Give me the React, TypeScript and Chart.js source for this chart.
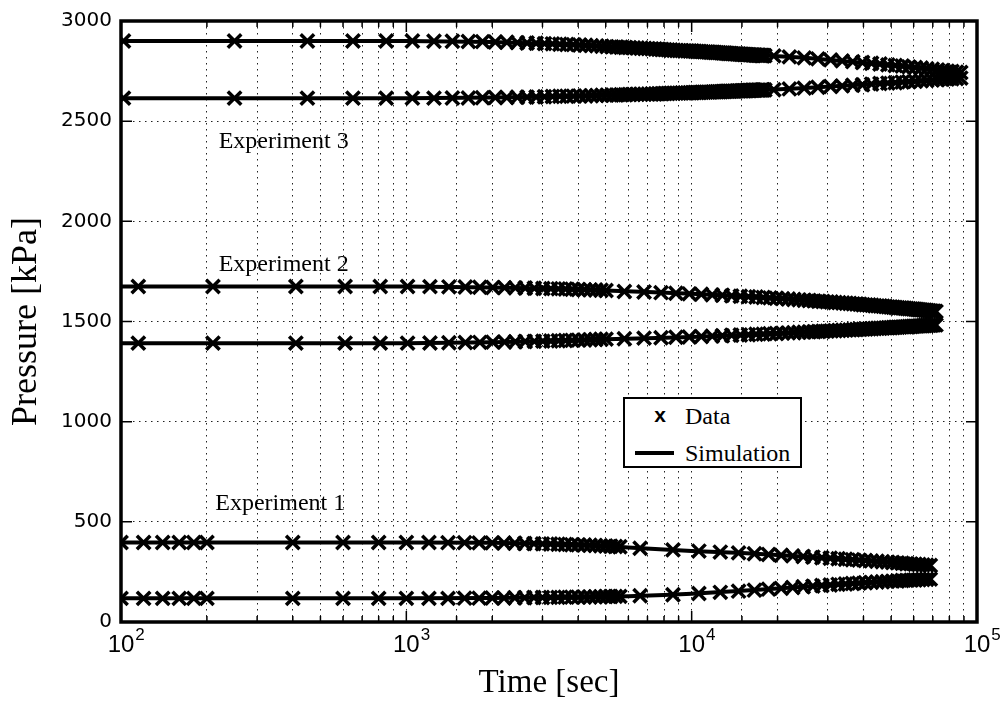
import React, { useEffect, useRef } from 'react';
import { Chart, registerables } from 'chart.js';

Chart.register(...registerables);

// ---------- Experiment 1 (data) ----------
const exp1Time = [
  100, 120, 140, 160, 180, 200,
  400, 600, 800, 1000, 1200, 1400, 1600, 1800, 2000, 2200, 2400, 2600, 2800, 3000,
  3200, 3400, 3600, 3800, 4000, 4200, 4400, 4600, 4800, 5000, 5200, 5400, 5600,
  6600, 8600, 10600, 12600, 14600, 16600, 18600, 20600, 22600, 24600, 26600, 28600,
  30600, 32600, 34600, 36600, 38600, 40600, 42600, 44600, 46600, 48600, 50600, 52600,
  54600, 56600, 58600, 60600, 62600, 64600, 66600, 68600,
];
const exp1Upper = [
  397, 397, 397, 397, 397, 397,
  397, 397, 397, 397, 397, 396, 396, 395, 395, 394, 393, 392, 391, 390,
  389, 388, 387, 386, 385, 384, 383, 382, 380, 379, 378, 377, 376,
  368, 360, 354, 349, 345, 341, 337, 333, 330, 327, 324, 321,
  318, 316, 313, 311, 309, 307, 305, 303, 301, 299, 297, 295,
  293, 291, 290, 288, 287, 285, 284, 282,
];
const exp1Lower = [
  118, 118, 118, 118, 118, 118,
  118, 118, 118, 118, 118, 118, 119, 119, 120, 120, 121, 121, 122, 122,
  123, 123, 124, 124, 124, 125, 125, 126, 126, 127, 127, 128, 128,
  131, 136, 142, 148, 154, 159, 164, 168, 172, 176, 179, 182,
  185, 188, 190, 192, 194, 196, 198, 200, 201, 203, 204, 205,
  207, 208, 209, 210, 211, 212, 213, 214,
];

// ---------- Experiment 2 (data) ----------
const exp2Time = [
  115, 210, 410, 610, 810, 1010, 1210, 1410, 1610, 1810, 2010, 2210, 2410, 2610, 2810,
  3010, 3210, 3410, 3610, 3810, 4010, 4210, 4410, 4610, 4810, 5010,
  5810, 6810, 7810, 8810, 9810, 10810, 11810, 12810, 13810, 14810,
  15810, 16810, 17810, 18810, 19810, 20810, 21810, 22810, 23810, 24810,
  25810, 26810, 27810, 28810, 29810, 30810, 31810, 32810, 33810, 34810,
  35810, 36810, 37810, 38810, 39810, 40810, 41810, 42810, 43810, 44810,
  45810, 46810, 47810, 48810, 49810, 50810, 51810, 52810, 53810, 54810,
  55810, 56810, 57810, 58810, 59810, 60810, 61810, 62810, 63810, 64810,
  65810, 66810, 67810, 68810, 69810, 70810, 71810,
];
const exp2Upper = [
  1675, 1675, 1675, 1675, 1675, 1675, 1674, 1673, 1672, 1671, 1670, 1669, 1668, 1667, 1666,
  1665, 1664, 1663, 1662, 1661, 1660, 1659, 1658, 1657, 1656, 1655,
  1650, 1647, 1644, 1641, 1638, 1636, 1633, 1631, 1628, 1626,
  1624, 1622, 1620, 1618, 1616, 1614, 1612, 1610, 1608, 1606,
  1605, 1603, 1601, 1600, 1598, 1597, 1595, 1594, 1592, 1591,
  1590, 1588, 1587, 1586, 1584, 1583, 1582, 1581, 1579, 1578,
  1577, 1576, 1575, 1573, 1572, 1571, 1570, 1569, 1568, 1567,
  1566, 1565, 1564, 1563, 1562, 1561, 1560, 1559, 1558, 1557,
  1556, 1555, 1554, 1553, 1552, 1551, 1550,
];
const exp2Lower = [
  1392, 1392, 1392, 1392, 1392, 1392, 1393, 1394, 1395, 1396, 1397, 1398, 1399, 1400, 1401,
  1402, 1403, 1404, 1405, 1406, 1407, 1408, 1409, 1410, 1411, 1412,
  1414, 1417, 1419, 1421, 1423, 1425, 1427, 1429, 1431, 1433,
  1434, 1436, 1437, 1439, 1440, 1442, 1443, 1444, 1446, 1447,
  1448, 1449, 1450, 1451, 1452, 1453, 1454, 1455, 1456, 1457,
  1458, 1459, 1460, 1461, 1462, 1462, 1463, 1464, 1465, 1466,
  1466, 1467, 1468, 1469, 1469, 1470, 1471, 1471, 1472, 1473,
  1473, 1474, 1475, 1475, 1476, 1477, 1477, 1478, 1478, 1479,
  1480, 1480, 1481, 1481, 1482, 1483, 1483,
];

// ---------- Experiment 3 (data) ----------
const exp3Time = [
  102,
  250, 450, 650, 850, 1050, 1250, 1450, 1650, 1850, 2050,
  2250, 2450, 2650, 2850, 3050, 3250, 3450, 3650, 3850, 4050,
  4250, 4450, 4650, 4850, 5050, 5250, 5450, 5650, 5850, 6050,
  6250, 6450, 6650, 6850, 7050, 7250, 7450, 7650, 7850, 8050,
  8250, 8450, 8650, 8850, 9050, 9250, 9450, 9650, 9850, 10050,
  10250, 10450, 10650, 10850, 11050, 11250, 11450, 11650, 11850, 12050,
  12250, 12450, 12650, 12850, 13050, 13250, 13450, 13650, 13850, 14050,
  14250, 14450, 14650, 14850, 15050, 15250, 15450, 15650, 15850, 16050,
  16250, 16450, 16650, 16850, 17050, 17250, 17450, 17650, 17850, 18050,
  19400, 22000, 24800, 27700, 30700, 33700, 36700, 39700, 42700, 45700, 48700, 51700,
  54700, 57700, 60700, 63700, 66700, 69700, 72700, 75700, 78700, 81700, 84700, 87700,
];
const exp3Upper = [
  2900,
  2900, 2900, 2900, 2900, 2900, 2899, 2899, 2898, 2897, 2895,
  2894, 2892, 2890, 2889, 2887, 2886, 2884, 2883, 2882, 2880,
  2879, 2877, 2876, 2874, 2872, 2871, 2870, 2869, 2868, 2867,
  2866, 2865, 2864, 2863, 2862, 2861, 2860, 2859, 2858, 2857,
  2856, 2855, 2854, 2853, 2852, 2852, 2851, 2851, 2850, 2850,
  2849, 2848, 2848, 2847, 2846, 2846, 2845, 2844, 2844, 2843,
  2842, 2842, 2841, 2840, 2840, 2839, 2838, 2838, 2837, 2836,
  2836, 2835, 2835, 2834, 2834, 2833, 2833, 2832, 2832, 2831,
  2831, 2830, 2830, 2829, 2829, 2829, 2828, 2828, 2828, 2827,
  2826, 2821, 2816, 2811, 2806, 2801, 2797, 2793, 2789, 2785, 2781, 2778,
  2775, 2771, 2768, 2765, 2762, 2759, 2756, 2753, 2750, 2748, 2745, 2743,
];
const exp3Lower = [
  2615,
  2615, 2615, 2615, 2615, 2615, 2615, 2616, 2616, 2617, 2618,
  2618, 2619, 2620, 2621, 2622, 2623, 2624, 2624, 2625, 2626,
  2626, 2627, 2628, 2629, 2630, 2630, 2631, 2632, 2632, 2633,
  2633, 2634, 2634, 2635, 2635, 2636, 2636, 2637, 2637, 2638,
  2638, 2639, 2639, 2640, 2640, 2641, 2641, 2641, 2642, 2642,
  2643, 2643, 2643, 2644, 2644, 2645, 2645, 2645, 2646, 2646,
  2647, 2647, 2647, 2648, 2648, 2649, 2649, 2649, 2650, 2650,
  2650, 2651, 2651, 2651, 2652, 2652, 2652, 2653, 2653, 2653,
  2654, 2654, 2654, 2655, 2655, 2655, 2655, 2656, 2656, 2656,
  2657, 2661, 2665, 2669, 2673, 2676, 2679, 2682, 2685, 2688, 2690, 2692,
  2695, 2697, 2699, 2701, 2703, 2705, 2707, 2709, 2710, 2712, 2713, 2715,
];

// ---------- Simulations ----------
const sim1Time = [100, 1000, 2000, 3000, 4000, 5000, 6000, 8000, 10000, 15000, 20000, 30000, 40000, 50000, 60000, 68600];
const sim1Upper = [397, 397, 395, 390, 385, 379, 372, 362, 355, 345, 334, 318, 306, 297, 288, 282];
const sim1Lower = [118, 118, 120, 122, 124, 127, 129, 135, 141, 156, 167, 185, 196, 204, 210, 214];

const sim2Time = [100, 1000, 2000, 3000, 5000, 7000, 10000, 15000, 20000, 30000, 40000, 50000, 60000, 71800];
const sim2Upper = [1675, 1675, 1670, 1665, 1655, 1647, 1638, 1626, 1616, 1598, 1584, 1572, 1562, 1550];
const sim2Lower = [1392, 1392, 1397, 1402, 1412, 1417, 1423, 1433, 1440, 1453, 1462, 1470, 1476, 1483];

const sim3Time = [100, 1000, 2000, 3000, 5000, 7000, 10000, 14000, 18000, 25000, 35000, 45000, 60000, 75000, 87700];
const sim3Upper = [2900, 2900, 2895, 2887, 2872, 2862, 2850, 2837, 2828, 2816, 2798, 2785, 2768, 2753, 2743];
const sim3Lower = [2615, 2615, 2618, 2622, 2630, 2635, 2642, 2649, 2656, 2665, 2678, 2688, 2699, 2709, 2715];

// ---------- Axes / labels ----------
const xTickValues = [100, 1000, 10000, 100000];
const xTickBase = '10';
const xTickExponents = ['2', '3', '4', '5'];
const yTickStep = 500;

const annotationTexts = ['Experiment 1', 'Experiment 2', 'Experiment 3'];
const annotationTimes = [214, 220, 220];
const annotationPressures = [591, 1783, 2399];

const legendLabels = ['Data', 'Simulation'];

function pairs(t: number[], p: number[]) {
  return t.map((x, i) => ({ x, y: p[i] }));
}

function isPow10(v: number) {
  const l = Math.log10(v);
  return Math.abs(l - Math.round(l)) < 1e-6;
}

const framePlugin = {
  id: 'frame',
  afterDraw(chart: any) {
    const { ctx, chartArea, scales } = chart;
    const { left, right, top, bottom } = chartArea;
    const x = scales.x;
    const y = scales.y;
    ctx.save();
    ctx.strokeStyle = '#000';
    ctx.lineWidth = 1.5;
    ctx.beginPath();
    x.ticks.forEach((t: any) => {
      const px = x.getPixelForValue(t.value);
      const len = isPow10(t.value) ? 11 : 6;
      ctx.moveTo(px, bottom);
      ctx.lineTo(px, bottom - len);
      ctx.moveTo(px, top);
      ctx.lineTo(px, top + len);
    });
    y.ticks.forEach((t: any) => {
      const py = y.getPixelForValue(t.value);
      ctx.moveTo(left, py);
      ctx.lineTo(left + 11, py);
      ctx.moveTo(right, py);
      ctx.lineTo(right - 11, py);
    });
    ctx.stroke();
    ctx.lineWidth = 3.5;
    ctx.strokeRect(left, top, right - left, bottom - top);

    // x tick labels: base with superscript exponent
    ctx.fillStyle = '#000';
    ctx.textBaseline = 'alphabetic';
    xTickValues.forEach((v, i) => {
      const px = x.getPixelForValue(v);
      ctx.font = '24px "Liberation Sans"';
      ctx.textAlign = 'center';
      ctx.fillText(xTickBase, px, bottom + 30);
      const w = ctx.measureText(xTickBase).width;
      ctx.font = '17px "Liberation Sans"';
      ctx.textAlign = 'left';
      ctx.fillText(xTickExponents[i], px + w / 2 + 1, bottom + 18);
    });
    ctx.restore();
  },
};

const annotationPlugin = {
  id: 'annotations',
  afterDatasetsDraw(chart: any) {
    const { ctx, scales } = chart;
    ctx.save();
    ctx.fillStyle = '#000';
    ctx.font = '24px "Liberation Serif"';
    ctx.textAlign = 'left';
    ctx.textBaseline = 'middle';
    annotationTexts.forEach((txt, i) => {
      ctx.fillText(
        txt,
        scales.x.getPixelForValue(annotationTimes[i]),
        scales.y.getPixelForValue(annotationPressures[i])
      );
    });
    ctx.restore();
  },
};

export default function App() {
  const canvasRef = useRef<HTMLCanvasElement | null>(null);

  useEffect(() => {
    if (!canvasRef.current) return;
    const marker = {
      showLine: false,
      pointStyle: 'crossRot',
      pointRadius: 9.5,
      pointHoverRadius: 9.5,
      pointBorderWidth: 3.5,
      borderColor: '#000',
      backgroundColor: '#000',
      clip: 0,
    };
    const line = {
      showLine: true,
      pointRadius: 0,
      pointHoverRadius: 0,
      borderWidth: 4,
      borderColor: '#000',
      backgroundColor: '#000',
      tension: 0,
      clip: 0,
    };
    const gridOpts = { color: '#222', lineWidth: 1, drawTicks: false };
    const borderOpts = { display: false, dash: [1.5, 4.5] };

    const chart = new Chart(canvasRef.current, {
      type: 'scatter',
      data: {
        datasets: [
          { ...line, label: 'sim1u', data: pairs(sim1Time, sim1Upper) },
          { ...line, label: 'sim1l', data: pairs(sim1Time, sim1Lower) },
          { ...line, label: 'sim2u', data: pairs(sim2Time, sim2Upper) },
          { ...line, label: 'sim2l', data: pairs(sim2Time, sim2Lower) },
          { ...line, label: 'sim3u', data: pairs(sim3Time, sim3Upper) },
          { ...line, label: 'sim3l', data: pairs(sim3Time, sim3Lower) },
          { ...marker, label: 'exp1u', data: pairs(exp1Time, exp1Upper) },
          { ...marker, label: 'exp1l', data: pairs(exp1Time, exp1Lower) },
          { ...marker, label: 'exp2u', data: pairs(exp2Time, exp2Upper) },
          { ...marker, label: 'exp2l', data: pairs(exp2Time, exp2Lower) },
          { ...marker, label: 'exp3u', data: pairs(exp3Time, exp3Upper) },
          { ...marker, label: 'exp3l', data: pairs(exp3Time, exp3Lower) },
        ] as any,
      },
      options: {
        responsive: false,
        animation: false,
        events: [],
        layout: { padding: { top: 18, right: 25, left: 0, bottom: 0 } },
        plugins: { legend: { display: false }, tooltip: { enabled: false } },
        scales: {
          x: {
            type: 'logarithmic',
            min: 100,
            max: 100000,
            afterFit: (s: any) => {
              s.height = 82;
            },
            grid: gridOpts,
            border: borderOpts,
            ticks: {
              display: false,
              autoSkip: false,
              maxRotation: 0,
              minRotation: 0,
            },
            title: {
              display: true,
              text: 'Time [sec]',
              color: '#000',
              font: { family: 'Liberation Serif', size: 33, lineHeight: 1.2 },
              padding: { top: 0, bottom: 1 },
            },
          },
          y: {
            type: 'linear',
            min: 0,
            max: 3000,
            afterFit: (s: any) => {
              s.width = 121;
            },
            grid: gridOpts,
            border: borderOpts,
            ticks: {
              stepSize: yTickStep,
              padding: 9,
              color: '#000',
              font: { family: 'DejaVu Sans', size: 20 },
              callback: (v: any) => String(v),
            },
            title: {
              display: true,
              text: 'Pressure [kPa]',
              color: '#000',
              font: { family: 'Liberation Serif', size: 36, lineHeight: 1.2 },
              padding: { top: 5, bottom: 0 },
            },
          },
        },
      } as any,
      plugins: [annotationPlugin, framePlugin],
    });
    return () => chart.destroy();
  }, []);

  return (
    <div style={{ position: 'fixed', left: 0, top: 0, width: 1002, height: 704, background: '#fff' }}>
      <canvas ref={canvasRef} width={1002} height={704} style={{ display: 'block' }} />
      <div
        style={{
          position: 'absolute',
          left: 623,
          top: 397,
          width: 179,
          height: 71,
          border: '2px solid #000',
          boxSizing: 'border-box',
          background: '#fff',
          fontFamily: '"Liberation Serif", serif',
          fontSize: 24,
          color: '#000',
        }}
      >
        <div
          style={{
            position: 'absolute',
            left: 27,
            top: 1,
            width: 16,
            height: 34,
            lineHeight: '30px',
            textAlign: 'center',
            fontFamily: '"Liberation Sans", sans-serif',
            fontSize: 21,
            fontWeight: 'bold',
          }}
        >
          x
        </div>
        <div style={{ position: 'absolute', left: 60, top: 2, height: 30, lineHeight: '30px' }}>{legendLabels[0]}</div>
        <div style={{ position: 'absolute', left: 10, top: 52, width: 39, height: 4, background: '#000' }} />
        <div style={{ position: 'absolute', left: 60, top: 39, height: 30, lineHeight: '30px' }}>{legendLabels[1]}</div>
      </div>
    </div>
  );
}
